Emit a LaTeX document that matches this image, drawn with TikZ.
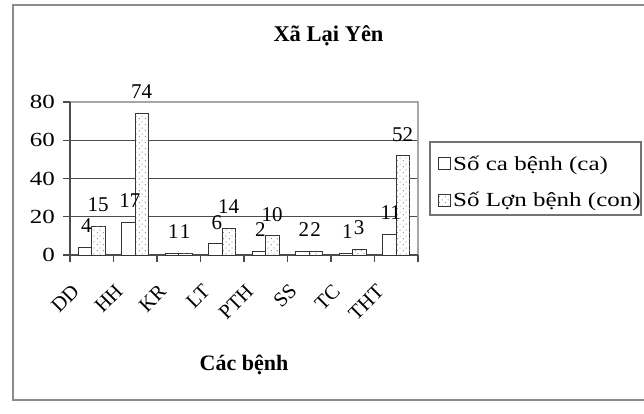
\documentclass[tikz,border=0pt]{standalone}
\usepackage{fontspec}
\setmainfont{Liberation Serif}
\newfontfamily\widefont[FakeStretch=1.25]{Liberation Serif}
\usetikzlibrary{patterns.meta}
\tikzdeclarepattern{name=sparsedots, type=uncolored,
  bottom left={(0pt,0pt)}, top right={(6pt,6pt)}, tile size={(6pt,6pt)},
  code={\fill (1.5pt,1.5pt) circle (0.7pt); \fill (4.5pt,4.5pt) circle (0.7pt);}}
\begin{document}
\begin{tikzpicture}[x=1pt,y=-1pt,
  frame/.style={draw=black!45, line width=1.3pt},
  gridline/.style={draw=black!70, line width=1.2pt},
  border/.style={draw=black!35, line width=1.2pt},
  bar/.style={draw=black!80, line width=0.9pt, fill=white},
  dotbar/.style={bar, postaction={pattern=sparsedots, pattern color=black!45}},
  val/.style={font=\fontsize{21}{25}\selectfont, inner sep=0pt, anchor=base},
  ytick/.style={font=\widefont\fontsize{20}{24}\selectfont, inner sep=0pt, anchor=east},
  cat/.style={font=\fontsize{20.5}{24}\selectfont, inner sep=0pt, anchor=east, rotate=45},
  ttl/.style={font=\bfseries\fontsize{22.5}{27}\selectfont, inner sep=0pt, anchor=base},
  leg/.style={font=\widefont\fontsize{20}{24}\selectfont, inner sep=0pt, anchor=base west}]
\useasboundingbox (0,0) rectangle (644,414);
\draw[frame] (650,5) -- (13,5) -- (13,400) -- (650,400);
% grid
\foreach \v in {20,40,60} \draw[gridline] (63,{255-1.9125*\v}) -- (418,{255-1.9125*\v});
\draw[border] (70,102) -- (418,102) -- (418,255);
\draw[gridline] (63,102) -- (70,102);
\draw[gridline] (70,102) -- (70,255);
\draw[gridline] (63,255) -- (418,255);
\foreach \k in {0,...,8} \draw[gridline] ({70+43.5*\k},255) -- ({70+43.5*\k},262);
% y labels
\foreach \v in {0,20,40,60,80} \node[ytick] (y\v) at (55,{255-1.9125*\v}) {\v};
% bars
\foreach \n/\a/\b [count=\k from 0] in {DD/4/15,HH/17/74,KR/1/1,LT/6/14,PTH/2/10,SS/2/2,TC/1/3,THT/11/52} {
  \pgfmathsetmacro\cx{70+43.5*(\k+0.5)}
  \draw[bar] ({\cx-13.5},255) rectangle (\cx,{255-1.9125*\a});
  \draw[dotbar] (\cx,255) rectangle ({\cx+13.5},{255-1.9125*\b});
  \node[val] (va\k) at ({\cx-5.5},{255-1.9125*\a-14.5}) {\a};
  \node[val] (vb\k) at ({\cx+6.25},{255-1.9125*\b-14.5}) {\b};
  \node[cat] (c\k) at ({\cx-16},288) {\n};
}
% legend
\draw[draw=black!55, line width=1.2pt] (430,142) rectangle (641,215);
\draw[bar] (438,157) rectangle (450,169);
\draw[dotbar] (438,194) rectangle (450,206);
\node[leg] (l1) at (453,170) {Số ca bệnh (ca)};
\node[leg] (l2) at (453,206) {Số Lợn bệnh (con)};
% titles
\node[ttl] (title) at (328.5,42) {Xã Lại Yên};
\node[ttl, font=\bfseries\fontsize{22}{26}\selectfont] (xt) at (244,370) {Các bệnh};
\end{tikzpicture}
\end{document}
